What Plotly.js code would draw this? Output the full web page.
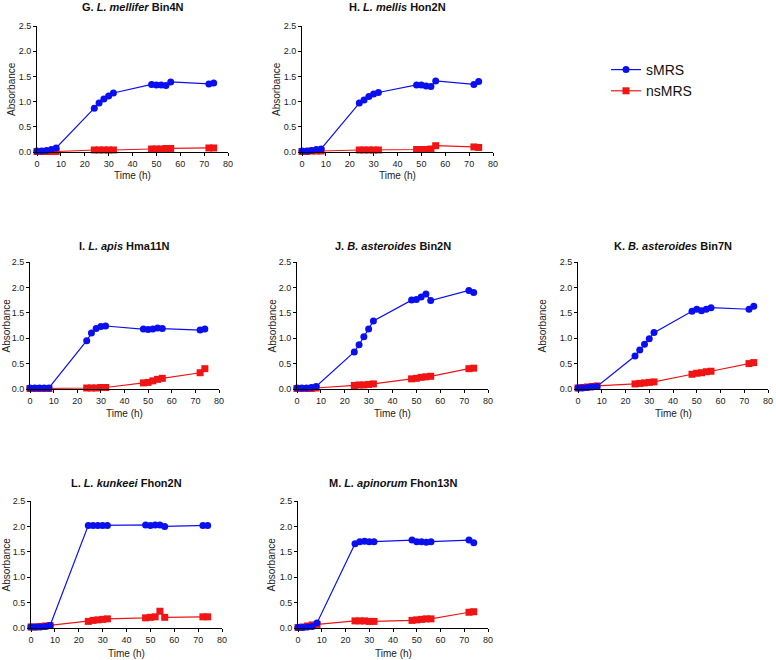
<!DOCTYPE html>
<html>
<head>
<meta charset="utf-8">
<script src="https://cdn.plot.ly/plotly-3.0.1.min.js"></script>
<style>html,body{margin:0;padding:0;background:#fff;}#chart{width:776px;height:660px;}</style>
</head>
<body>
<div id="chart"></div>
<script>
const time = [0, 2, 4, 6, 8, 24, 26, 28, 30, 32, 48, 50, 52, 54, 56, 72, 74];

const panelTitles = [
  "<b>G. <i>L. mellifer</i> Bin4N</b>",
  "<b>H. <i>L. mellis</i> Hon2N</b>",
  "<b>I. <i>L. apis</i> Hma11N</b>",
  "<b>J. <i>B. asteroides</i> Bin2N</b>",
  "<b>K. <i>B. asteroides</i> Bin7N</b>",
  "<b>L. <i>L. kunkeei</i> Fhon2N</b>",
  "<b>M. <i>L. apinorum</i> Fhon13N</b>"
];

const sMRS_G = [0.02, 0.02, 0.03, 0.05, 0.08, 0.87, 0.97, 1.05, 1.11, 1.17, 1.34, 1.33, 1.33, 1.32, 1.39, 1.35, 1.37];
const nsMRS_G = [0.01, 0.01, 0.01, 0.01, 0.01, 0.04, 0.04, 0.04, 0.04, 0.04, 0.06, 0.06, 0.06, 0.07, 0.07, 0.08, 0.08];

const sMRS_H = [0.02, 0.02, 0.03, 0.05, 0.06, 0.97, 1.03, 1.10, 1.15, 1.18, 1.33, 1.33, 1.31, 1.30, 1.41, 1.34, 1.40];
const nsMRS_H = [0.01, 0.01, 0.02, 0.02, 0.02, 0.04, 0.04, 0.04, 0.04, 0.04, 0.05, 0.05, 0.05, 0.06, 0.125, 0.10, 0.09];

const sMRS_I = [0.02, 0.02, 0.02, 0.02, 0.02, 0.95, 1.10, 1.19, 1.23, 1.24, 1.18, 1.17, 1.18, 1.20, 1.19, 1.16, 1.18];
const nsMRS_I = [0.01, 0.01, 0.01, 0.01, 0.01, 0.02, 0.02, 0.02, 0.03, 0.03, 0.12, 0.13, 0.16, 0.19, 0.21, 0.32, 0.40];

const sMRS_J = [0.02, 0.02, 0.02, 0.03, 0.05, 0.73, 0.87, 1.03, 1.18, 1.34, 1.75, 1.76, 1.81, 1.87, 1.74, 1.94, 1.90];
const nsMRS_J = [0.01, 0.01, 0.01, 0.01, 0.02, 0.07, 0.08, 0.08, 0.09, 0.10, 0.20, 0.21, 0.23, 0.24, 0.25, 0.40, 0.41];

const sMRS_K = [0.02, 0.02, 0.03, 0.04, 0.05, 0.65, 0.77, 0.88, 0.99, 1.11, 1.53, 1.57, 1.54, 1.57, 1.60, 1.57, 1.63];
const nsMRS_K = [0.02, 0.03, 0.04, 0.05, 0.06, 0.10, 0.11, 0.12, 0.13, 0.14, 0.29, 0.31, 0.32, 0.34, 0.35, 0.50, 0.52];

const sMRS_L = [0.02, 0.02, 0.02, 0.03, 0.05, 2.02, 2.02, 2.02, 2.02, 2.02, 2.03, 2.02, 2.03, 2.03, 2.00, 2.02, 2.02];
const nsMRS_L = [0.02, 0.02, 0.03, 0.04, 0.05, 0.13, 0.15, 0.16, 0.17, 0.18, 0.20, 0.21, 0.22, 0.33, 0.21, 0.22, 0.22];

const sMRS_M = [0.01, 0.01, 0.02, 0.03, 0.10, 1.66, 1.70, 1.71, 1.70, 1.70, 1.73, 1.70, 1.70, 1.69, 1.70, 1.73, 1.68];
const nsMRS_M = [0.01, 0.02, 0.04, 0.06, 0.07, 0.14, 0.14, 0.14, 0.13, 0.13, 0.15, 0.16, 0.17, 0.18, 0.18, 0.31, 0.32];

const sMRS = [sMRS_G, sMRS_H, sMRS_I, sMRS_J, sMRS_K, sMRS_L, sMRS_M];
const nsMRS = [nsMRS_G, nsMRS_H, nsMRS_I, nsMRS_J, nsMRS_K, nsMRS_L, nsMRS_M];

const xTickVals = [0, 10, 20, 30, 40, 50, 60, 70, 80];
const yTickVals = [0, 0.5, 1.0, 1.5, 2.0, 2.5];

const W = 776, H = 660;
const boxes = [
  {x0: 37, x1: 228, yt: 26, yb: 152, ty: 7, xt: 175, yl: 11},
  {x0: 302, x1: 493, yt: 26, yb: 152, ty: 7, xt: 175, yl: 276},
  {x0: 30, x1: 219, yt: 262, yb: 389, ty: 246, xt: 413, yl: 6},
  {x0: 297, x1: 488, yt: 262, yb: 389, ty: 246, xt: 413, yl: 272},
  {x0: 578, x1: 768, yt: 262, yb: 389, ty: 246, xt: 413, yl: 542},
  {x0: 31, x1: 222, yt: 501, yb: 628, ty: 483, xt: 653, yl: 6},
  {x0: 298, x1: 488, yt: 501, yb: 628, ty: 483, xt: 653, yl: 271}
];

const blue = '#0a0ff0';
const red = '#f01414';
const traces = [];
const layout = {
  width: W, height: H,
  margin: {l: 0, r: 0, t: 0, b: 0},
  paper_bgcolor: '#fff', plot_bgcolor: 'rgba(0,0,0,0)',
  font: {family: 'Arial, "Liberation Sans", sans-serif', color: '#222'},
  showlegend: true,
  legend: {x: 606/W, y: (H - 54)/H, xanchor: 'left', yanchor: 'top', tracegroupgap: 0,
           font: {size: 14, color: '#111'}, bgcolor: 'rgba(0,0,0,0)', itemwidth: 30},
  annotations: []
};

boxes.forEach((b, i) => {
  const n = i + 1;
  const xa = n === 1 ? 'x' : 'x' + n;
  const ya = n === 1 ? 'y' : 'y' + n;
  traces.push({
    x: time, y: nsMRS[i], xaxis: xa, yaxis: ya, type: 'scatter', mode: 'lines+markers',
    name: 'nsMRS', showlegend: i === 0, legendrank: 2,
    line: {color: red, width: 1.2}, marker: {symbol: 'square', size: 7, color: red},
    cliponaxis: false
  });
  traces.push({
    x: time, y: sMRS[i], xaxis: xa, yaxis: ya, type: 'scatter', mode: 'lines+markers',
    name: 'sMRS', showlegend: i === 0, legendrank: 1,
    line: {color: blue, width: 1.2}, marker: {symbol: 'circle', size: 7, color: blue},
    cliponaxis: false
  });
  const axBase = {
    showgrid: false, zeroline: false, showline: true, linecolor: '#000', linewidth: 1,
    ticks: 'outside', ticklen: 3, tickcolor: '#000', tickwidth: 1,
    tickfont: {size: 9, color: '#222'}, fixedrange: true
  };
  layout['xaxis' + (n === 1 ? '' : n)] = Object.assign({}, axBase, {
    domain: [b.x0 / W, b.x1 / W], anchor: ya, range: [0, 80],
    tickmode: 'array', tickvals: xTickVals
  });
  layout['yaxis' + (n === 1 ? '' : n)] = Object.assign({}, axBase, {
    domain: [(H - b.yb) / H, (H - b.yt) / H], anchor: xa, range: [0, 2.5],
    tickmode: 'array', tickvals: yTickVals, tickformat: '.1f'
  });
  layout.annotations.push({
    xref: 'paper', yref: 'paper', x: (b.x0 + b.x1) / 2 / W, y: (H - b.ty) / H,
    xanchor: 'center', yanchor: 'middle', showarrow: false,
    text: panelTitles[i], font: {size: 11, color: '#111'}
  });
  layout.annotations.push({
    xref: 'paper', yref: 'paper', x: (b.x0 + b.x1) / 2 / W, y: (H - b.xt) / H,
    xanchor: 'center', yanchor: 'middle', showarrow: false,
    text: 'Time (h)', font: {size: 10, color: '#222'}
  });
  layout.annotations.push({
    xref: 'paper', yref: 'paper', x: b.yl / W, y: (H - (b.yt + b.yb) / 2) / H,
    xanchor: 'center', yanchor: 'middle', showarrow: false, textangle: -90,
    text: 'Absorbance', font: {size: 10, color: '#222'}
  });
});

Plotly.newPlot('chart', traces, layout, {displayModeBar: false, staticPlot: true});
</script>
</body>
</html>
